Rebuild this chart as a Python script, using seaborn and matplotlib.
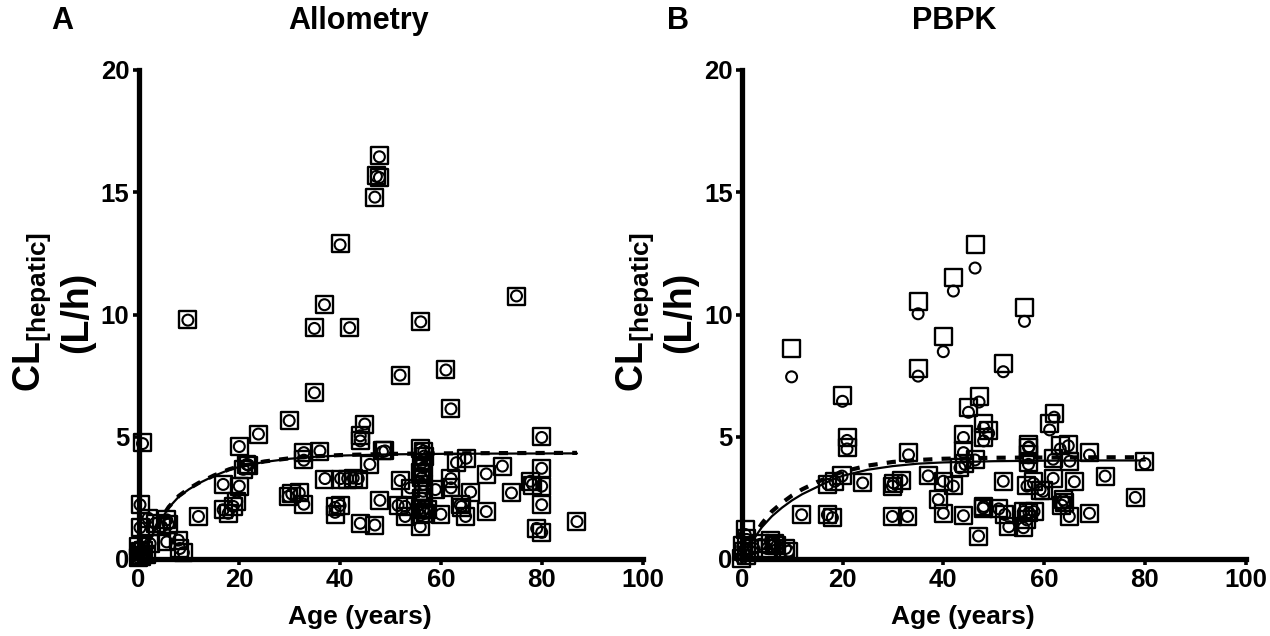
import matplotlib
matplotlib.use("Agg")
import matplotlib.pyplot as plt
import seaborn as sns
import pandas as pd

# ---------------- data ----------------
# Allometry panel: age (years), observed CL (squares), predicted CL (circles)
age_allo = [47.8, 47.2, 47.8, 46.9, 40.0, 36.9, 34.9, 41.9, 56.0, 75.0, 9.8, 51.9, 61.0, 34.9,
            62.0, 29.9, 23.8, 20.0, 0.8, 44.9, 44.0, 44.0, 36.0, 32.8, 32.8, 48.4, 48.9, 55.9,
            56.6, 56.7, 56.2, 56.5, 65.0, 63.1, 45.9, 72.2, 80.0, 80.0, 69.0, 21.5, 20.8, 21.8,
            16.8, 20.0, 37.0, 40.1, 41.5, 42.6, 43.6, 51.9, 53.9, 55.9, 56.2, 56.5, 56.5, 56.2,
            58.9, 62.0, 62.0, 65.9, 74.0, 77.8, 78.2, 80.0, 80.0, 79.0, 80.0, 29.7, 30.4, 31.9,
            32.8, 39.0, 39.0, 40.0, 44.0, 46.9, 47.9, 51.5, 52.9, 52.9, 55.9, 56.5, 57.4, 56.9,
            56.0, 55.9, 60.0, 63.8, 64.1, 64.9, 69.0, 19.5, 18.8, 16.8, 17.8, 11.9, 0.3, 0.3,
            1.9, 3.3, 4.6, 5.6, 5.9, 2.3, 5.6, 7.9, 8.9, 8.2, 87.0, 0.0, 0.2, 0.4, 0.6, 1.0,
            0.1, 1.5]
obs_allo = [16.5, 15.7, 15.6, 14.8, 12.9, 10.4, 9.45, 9.45, 9.7, 10.75, 9.8, 7.5, 7.75, 6.8,
            6.15, 5.65, 5.1, 4.6, 4.75, 5.5, 5.05, 4.85, 4.4, 4.35, 4.05, 4.42, 4.42, 4.5,
            4.4, 4.2, 3.95, 3.75, 4.1, 3.95, 3.85, 3.8, 5.0, 3.72, 3.47, 3.87, 3.67, 3.84,
            3.05, 2.98, 3.27, 3.27, 3.27, 3.3, 3.27, 3.2, 2.88, 3.53, 3.32, 3.05, 2.77, 2.49,
            2.84, 3.3, 2.91, 2.72, 2.7, 3.18, 3.0, 2.98, 2.22, 1.25, 1.07, 2.56, 2.66, 2.7,
            2.24, 2.15, 1.8, 2.2, 1.46, 1.39, 2.41, 2.2, 2.15, 1.72, 2.05, 2.08, 2.02, 1.87,
            1.8, 1.32, 1.82, 2.22, 2.1, 1.74, 1.93, 2.36, 2.15, 2.01, 1.87, 1.74, 2.22, 1.28,
            1.67, 1.46, 1.32, 1.6, 1.42, 0.63, 0.7, 0.77, 0.26, 0.43, 1.53, 0.05, 0.15, 0.3,
            0.1, 0.35, 0.5, 0.2]
pred_allo = [16.45, 15.65, 15.6, 14.8, 12.85, 10.4, 9.43, 9.46, 9.7, 10.76, 9.77, 7.52, 7.73, 6.8,
             6.14, 5.66, 5.11, 4.6, 4.72, 5.52, 5.04, 4.83, 4.42, 4.35, 4.04, 4.39, 4.42, 4.49,
             4.42, 4.21, 3.94, 3.73, 4.12, 3.94, 3.87, 3.8, 4.97, 3.71, 3.48, 3.87, 3.67, 3.84,
             3.05, 2.98, 3.29, 3.29, 3.29, 3.31, 3.29, 3.21, 2.91, 3.53, 3.32, 3.05, 2.77, 2.49,
             2.84, 3.29, 2.91, 2.74, 2.7, 3.18, 3.05, 2.98, 2.22, 1.25, 1.09, 2.56, 2.66, 2.7,
             2.24, 2.11, 1.91, 2.19, 1.46, 1.39, 2.4, 2.19, 2.15, 1.74, 2.08, 2.01, 2.05, 1.87,
             1.8, 1.32, 1.83, 2.22, 2.15, 1.74, 1.94, 2.36, 2.15, 2.01, 1.87, 1.74, 2.22, 1.28,
             1.67, 1.46, 1.32, 1.6, 1.42, 0.63, 0.7, 0.77, 0.26, 0.43, 1.53, 0.05, 0.15, 0.3,
             0.1, 0.35, 0.5, 0.2]

# PBPK panel
age_pbpk = [9.9, 20.0, 20.9, 20.9, 35.0, 35.0, 40.0, 42.0, 46.3, 56.1, 51.9, 33.1, 45.0, 47.1,
            44.0, 44.0, 48.0, 49.0, 48.0, 62.0, 61.1, 57.0, 63.2, 64.8, 69.0, 80.0, 11.9, 17.0,
            18.0, 17.1, 18.5, 19.9, 24.0, 29.9, 30.1, 31.8, 29.9, 32.9, 37.0, 40.0, 42.0, 39.0,
            40.0, 44.0, 44.3, 43.3, 46.3, 48.0, 47.9, 47.0, 51.9, 51.0, 52.2, 53.0, 55.9, 57.0,
            58.0, 55.9, 56.6, 56.9, 56.9, 56.9, 56.6, 57.9, 59.2, 59.8, 61.8, 61.8, 65.1, 63.8,
            63.5, 64.1, 65.0, 66.0, 69.0, 72.1, 78.1, 0.7, 1.0, 3.7, 5.7, 7.0, 8.7, 9.3, 5.0,
            2.4, 1.0, 0.0, 0.4, 0.2, 6.5]
obs_pbpk = [8.6, 6.7, 4.95, 4.55, 10.55, 7.8, 9.08, 11.5, 12.85, 10.3, 8.0, 4.35, 6.21, 6.65,
            5.11, 4.42, 5.55, 5.25, 4.97, 5.96, 5.55, 4.7, 4.63, 4.7, 4.35, 4.0, 1.81, 1.83,
            1.7, 3.05, 3.18, 3.4, 3.11, 2.98, 3.1, 3.2, 1.74, 1.74, 3.42, 3.18, 3.0, 2.42,
            1.87, 1.77, 3.9, 3.75, 4.05, 2.15, 2.08, 0.94, 3.18, 2.05, 1.82, 1.32, 1.94, 1.9,
            1.94, 1.3, 1.6, 4.56, 4.28, 3.95, 3.0, 3.18, 2.8, 2.8, 3.3, 4.1, 4.0, 2.42,
            2.2, 2.33, 1.74, 3.16, 1.87, 3.39, 2.52, 1.2, 0.84, 0.63, 0.77, 0.57, 0.43, 0.32, 0.43,
            0.43, 0.15, 0.02, 0.29, 0.55, 0.65]
pred_pbpk = [7.45, 6.45, 4.85, 4.5, 10.03, 7.48, 8.48, 10.96, 11.9, 9.72, 7.66, 4.26, 6.0, 6.42,
             4.97, 4.35, 5.38, 5.14, 4.83, 5.8, 5.28, 4.59, 4.5, 4.63, 4.25, 3.9, 1.81, 1.81,
             1.69, 3.05, 3.18, 3.39, 3.11, 2.98, 3.11, 3.22, 1.74, 1.74, 3.4, 3.18, 2.98, 2.43,
             1.87, 1.77, 3.87, 3.73, 4.05, 2.15, 2.08, 0.94, 3.18, 2.05, 1.82, 1.32, 1.94, 1.9,
             1.94, 1.28, 1.6, 4.56, 4.14, 3.87, 2.98, 3.1, 2.84, 2.77, 3.3, 4.08, 4.0, 2.42,
             2.2, 2.33, 1.74, 3.16, 1.87, 3.39, 2.52, 1.0, 0.8, 0.6, 0.75, 0.55, 0.43, 0.32, 0.43,
             0.43, 0.15, 0.02, 0.29, 0.5, 0.63]

# Maturation curves (solid and dashed) for each panel
curve_age_allo = [0, 1, 2, 4, 6, 8, 10, 12, 15, 18, 20, 25, 30, 35, 40, 50, 60, 70, 87]
curve_solid_allo = [0.0, 0.3, 0.7, 1.45, 2.1, 2.55, 2.85, 3.1, 3.4, 3.65, 3.77, 3.97, 4.1, 4.18,
                    4.23, 4.28, 4.3, 4.31, 4.32]
curve_dash_allo = [0.0, 0.32, 0.72, 1.5, 2.13, 2.58, 2.88, 3.12, 3.42, 3.67, 3.79, 3.99, 4.12,
                   4.2, 4.25, 4.3, 4.32, 4.33, 4.34]
curve_age_pbpk = [0, 1, 2, 4, 6, 8, 10, 12, 15, 18, 20, 25, 30, 35, 40, 50, 60, 70, 80]
curve_solid_pbpk = [0.0, 0.35, 0.7, 1.3, 1.75, 2.1, 2.4, 2.65, 2.95, 3.25, 3.4, 3.65, 3.8, 3.9,
                    3.95, 4.0, 4.02, 4.03, 4.03]
curve_dash_pbpk = [0.0, 0.4, 0.8, 1.45, 1.95, 2.3, 2.6, 2.85, 3.15, 3.42, 3.57, 3.82, 3.97, 4.05,
                   4.1, 4.14, 4.15, 4.16, 4.16]

x_ticks = [0, 20, 40, 60, 80, 100]
y_ticks = [0, 5, 10, 15, 20]

# ---------------- style ----------------
sns.set_style("ticks")
plt.rcParams["font.family"] = ["Liberation Sans", "DejaVu Sans"]
plt.rcParams["font.weight"] = "bold"
plt.rcParams["mathtext.fontset"] = "custom"
plt.rcParams["mathtext.rm"] = "Liberation Sans:bold"
plt.rcParams["mathtext.bf"] = "Liberation Sans:bold"
plt.rcParams["mathtext.it"] = "Liberation Sans:bold"
for key in ("axes.edgecolor", "xtick.color", "ytick.color", "text.color",
            "axes.labelcolor", "xtick.labelcolor", "ytick.labelcolor"):
    plt.rcParams[key] = "black"

W, H = 1270, 636
fig = plt.figure(figsize=(W / 100, H / 100), dpi=100)


def px_axes(x0, x1, y_top, y_bot):
    return fig.add_axes([x0 / W, 1 - y_bot / H, (x1 - x0) / W, (y_bot - y_top) / H])


def draw_panel(ax, age, obs, pred, c_age, c_solid, c_dash):
    df = pd.DataFrame({"age": age, "obs": obs, "pred": pred})
    sns.scatterplot(data=df, x="age", y="obs", marker="s", s=150, facecolors="none",
                    edgecolor="black", linewidth=1.7, ax=ax, clip_on=False, zorder=3)
    sns.scatterplot(data=df, x="age", y="pred", marker="o", s=62, facecolors="none",
                    edgecolor="black", linewidth=1.5, ax=ax, clip_on=False, zorder=4)
    cdf = pd.DataFrame({"age": c_age, "solid": c_solid, "dash": c_dash})
    sns.lineplot(data=cdf, x="age", y="solid", color="black", linewidth=1.6, ax=ax,
                 clip_on=False, zorder=5)
    sns.lineplot(data=cdf, x="age", y="dash", color="black", linewidth=3.0, ax=ax,
                 linestyle=(0, (2.2, 2.2)), clip_on=False, zorder=5)
    ax.set_xlim(0, 100)
    ax.set_ylim(0, 20)
    ax.set_xticks(x_ticks)
    ax.set_yticks(y_ticks)
    ax.set_xlabel("")
    ax.set_ylabel("")
    for side in ("top", "right"):
        ax.spines[side].set_visible(False)
    for side in ("left", "bottom"):
        ax.spines[side].set_linewidth(3.8)
        ax.spines[side].set_capstyle("projecting")
    ax.tick_params(axis="both", direction="out", length=4.5, width=2.6, pad=2,
                   labelsize=18.5, colors="black")
    for lab in ax.get_xticklabels() + ax.get_yticklabels():
        lab.set_fontweight("bold")


ax_a = px_axes(138.5, 642.5, 70, 559)
ax_b = px_axes(741.7, 1245.7, 70, 559)
draw_panel(ax_a, age_allo, obs_allo, pred_allo, curve_age_allo, curve_solid_allo, curve_dash_allo)
draw_panel(ax_b, age_pbpk, obs_pbpk, pred_pbpk, curve_age_pbpk, curve_solid_pbpk, curve_dash_pbpk)


def ftext(x, y, s, **kw):
    fig.text(x / W, 1 - y / H, s, fontweight="bold", **kw)


# panel letters, titles, axis labels
for off, letter, lx, title, tx, xl in ((0, "A", 62, "Allometry", 359, 360),
                                        (603, "B", 678, "PBPK", 954, 963)):
    ftext(lx, 21, letter, fontsize=22, ha="center", va="center")
    ftext(tx, 21, title, fontsize=22, ha="center", va="center")
    ftext(xl, 617, "Age (years)", fontsize=19, ha="center", va="center")
    ftext(32 + off, 312, r"CL$_{\rm [hepatic]}$", fontsize=27, rotation=90,
          ha="center", va="center")
    ftext(77 + off, 312, "(L/h)", fontsize=27, rotation=90, ha="center", va="center")

fig.savefig("out.png", dpi=100)
